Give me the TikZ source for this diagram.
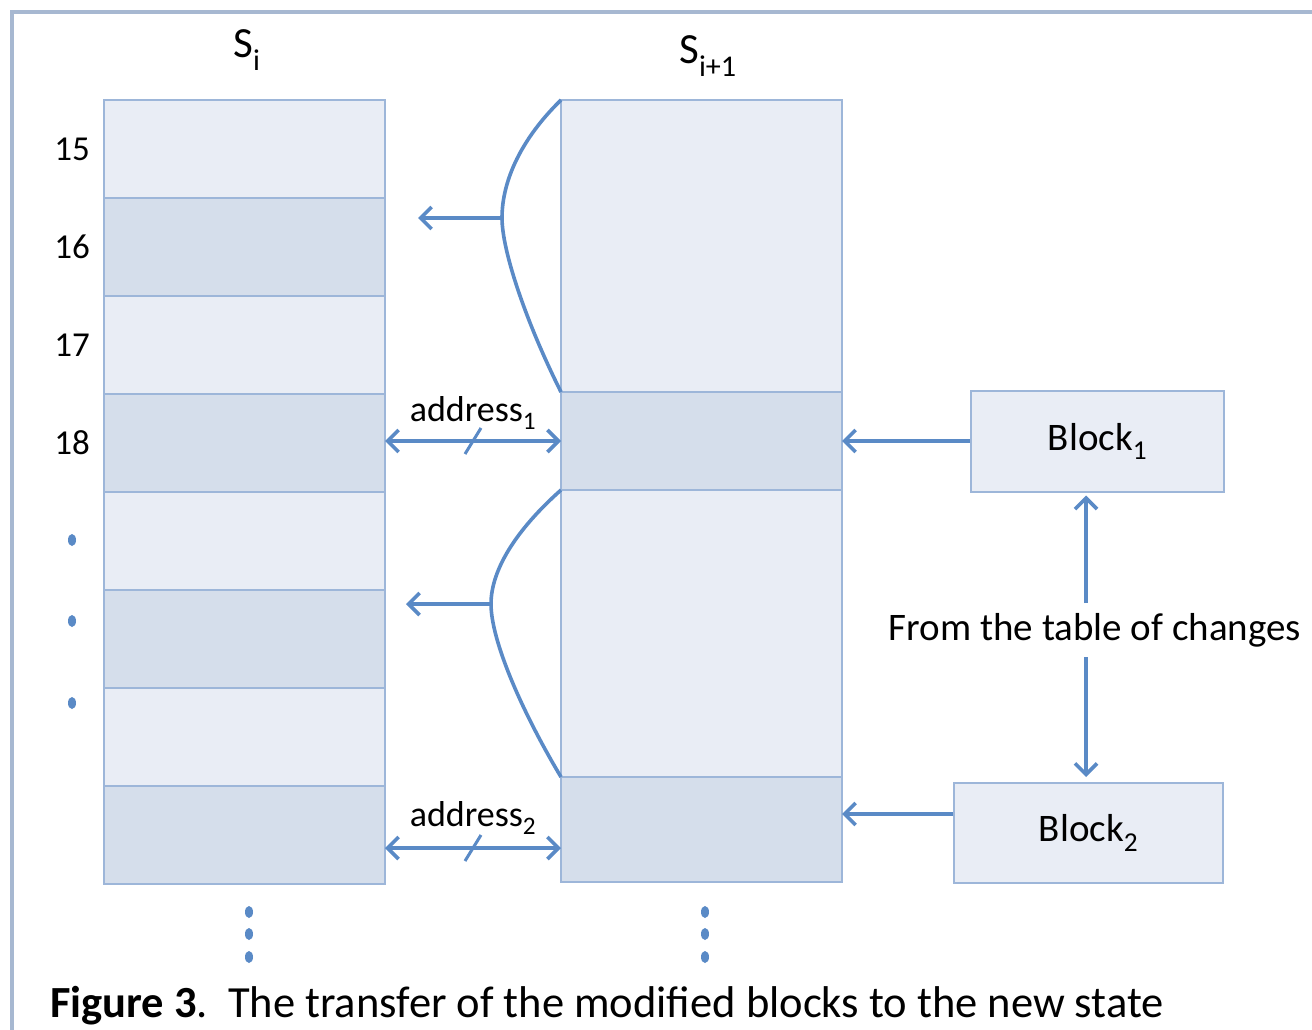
\documentclass[tikz,border=0pt]{standalone}
\usepackage{fontspec}
\setmainfont{Carlito}
\usetikzlibrary{positioning,arrows.meta}

\definecolor{boxline}{HTML}{9DB6D9}
\definecolor{lightfill}{HTML}{E9EDF5}
\definecolor{darkfill}{HTML}{D5DEEB}
\definecolor{arrowblue}{HTML}{5A8AC6}
\definecolor{framegray}{HTML}{A7B8D1}

\tikzset{
  cell/.style={draw=boxline, line width=2pt, minimum width=281pt, inner sep=0pt, outer sep=0pt},
  light/.style={cell, fill=lightfill},
  dark/.style={cell, fill=darkfill},
  blockbox/.style={draw=boxline, line width=2pt, fill=lightfill, inner sep=0pt,
    font=\fontsize{39}{44}\selectfont},
  link/.style={draw=arrowblue, line width=3.6pt, -{Straight Barb[length=11pt,width=22pt]}},
  twoway/.style={draw=arrowblue, line width=3.6pt,
    {Straight Barb[length=11pt,width=22pt]}-{Straight Barb[length=11pt,width=22pt]}},
  brace/.style={draw=arrowblue, line width=3.6pt},
  tick/.style={draw=arrowblue, line width=3pt},
  num/.style={inner sep=0pt, font=\fontsize{35}{40}\selectfont},
  lbl/.style={inner sep=0pt, font=\fontsize{38}{44}\selectfont},
  blip/.style={fill=arrowblue}
}

\begin{document}
\begin{tikzpicture}[x=1pt, y=-1pt]
\useasboundingbox (0,0) rectangle (1312,1030);
% frame
\draw[framegray, line width=3.5pt] (12,1035) -- (12,12) -- (1320,12);

% state S_i
\node[light, minimum height=98pt, anchor=north west] (r15) at (104,100) {};
\node[dark,  minimum height=98pt, below=0pt of r15] (r16) {};
\node[light, minimum height=98pt, below=0pt of r16] (r17) {};
\node[dark,  minimum height=98pt, below=0pt of r17] (r18) {};
\node[light, minimum height=98pt, below=0pt of r18] (r19) {};
\node[dark,  minimum height=98pt, below=0pt of r19] (r20) {};
\node[light, minimum height=98pt, below=0pt of r20] (r21) {};
\node[dark,  minimum height=98pt, below=0pt of r21] (r22) {};

% state S_{i+1}
\node[light, minimum height=292pt, anchor=north west] (top) at (561,100) {};
\node[dark,  minimum height=98pt, below=0pt of top] (blk1) {};
\node[light, minimum height=287pt, below=0pt of blk1] (mid) {};
\node[dark,  minimum height=105pt, below=0pt of mid] (blk2) {};

% titles and row numbers
\node[lbl, font=\fontsize{43}{48}\selectfont] (si)  at (247,50) {S\textsubscript{i}};
\node[lbl, font=\fontsize{43}{48}\selectfont] (si1) at (708,56) {S\textsubscript{i+1}};
\node[num, left=14pt of r15] (n15) {15};
\node[num, left=14pt of r16] (n16) {16};
\node[num, left=14pt of r17] (n17) {17};
\node[num, left=14pt of r18] (n18) {18};

% dots
\fill[blip] (72,540) ellipse (4 and 6);
\fill[blip] (72,621) ellipse (4 and 6);
\fill[blip] (72,703) ellipse (4 and 6);
\fill[blip] (249,912) ellipse (4 and 6);
\fill[blip] (249,934) ellipse (4 and 6);
\fill[blip] (249,957) ellipse (4 and 6);
\fill[blip] (705,912) ellipse (4 and 6);
\fill[blip] (705,934) ellipse (4 and 6);
\fill[blip] (705,957) ellipse (4 and 6);

% blocks from the table of changes
\node[blockbox, minimum width=253pt, minimum height=101pt, right=128pt of blk1] (b1) {\raisebox{-5pt}{Block\textsubscript{1}}};
\node[blockbox, minimum width=269pt, minimum height=100pt, anchor=north west] (b2) at (953,782) {\raisebox{-2pt}{Block\textsubscript{2}}};
\node[lbl, font=\fontsize{39}{44}\selectfont] (changes) at (1095,630) {From the table of changes};

\coordinate (upfoot) at (1086,603);
\coordinate (downfoot) at (1086,657);
\draw[link, shorten >=3pt] (upfoot) -- (upfoot |- b1.south);
\draw[link, shorten >=5pt] (downfoot) -- (downfoot |- b2.north);

\draw[link] (b1.west) -- (b1.west -| blk1.east);
\coordinate (b2in) at ([yshift=19pt]b2.west);
\draw[link] (b2in) -- (b2in -| blk2.east);

% addresses
\coordinate (a1l) at ([yshift=2pt]r18.east);
\draw[twoway] (a1l) -- (a1l -| blk1.west)
  node[midway] (t1) {}
  node[midway, lbl, above=10pt, font=\fontsize{36}{40}\selectfont] (ad1) {address\textsubscript{1}};
\draw[tick] ([shift={(-8pt,-13pt)}]t1.center) -- ([shift={(8pt,13pt)}]t1.center);

\coordinate (a2l) at ([yshift=-13pt]r22.east);
\draw[twoway] (a2l) -- (a2l -| blk2.west)
  node[midway] (t2) {}
  node[midway, lbl, above=12pt, font=\fontsize{36}{40}\selectfont] (ad2) {address\textsubscript{2}};
\draw[tick] ([shift={(-8pt,-13pt)}]t2.center) -- ([shift={(8pt,13pt)}]t2.center);

% braces
\coordinate (tip1) at (502,218);
\coordinate (to1) at (418,218);
\draw[brace] (top.north west) .. controls (522,138) and (502,180) .. (tip1)
  .. controls (502,250) and (525,320) .. (top.south west);
\draw[link] (tip1) -- (to1);

\coordinate (tip2) at (491,604);
\coordinate (to2) at (406,604);
\draw[brace] (mid.north west) .. controls (516,530) and (491,570) .. (tip2)
  .. controls (491,640) and (521,710) .. (mid.south west);
\draw[link] (tip2) -- (to2);

% caption
\node[lbl, anchor=base west, font=\fontsize{44.5}{50}\selectfont] (caption) at (50,1017) {\textbf{Figure 3}.\ \ The transfer of the modified blocks to the new state};
\end{tikzpicture}
\end{document}
